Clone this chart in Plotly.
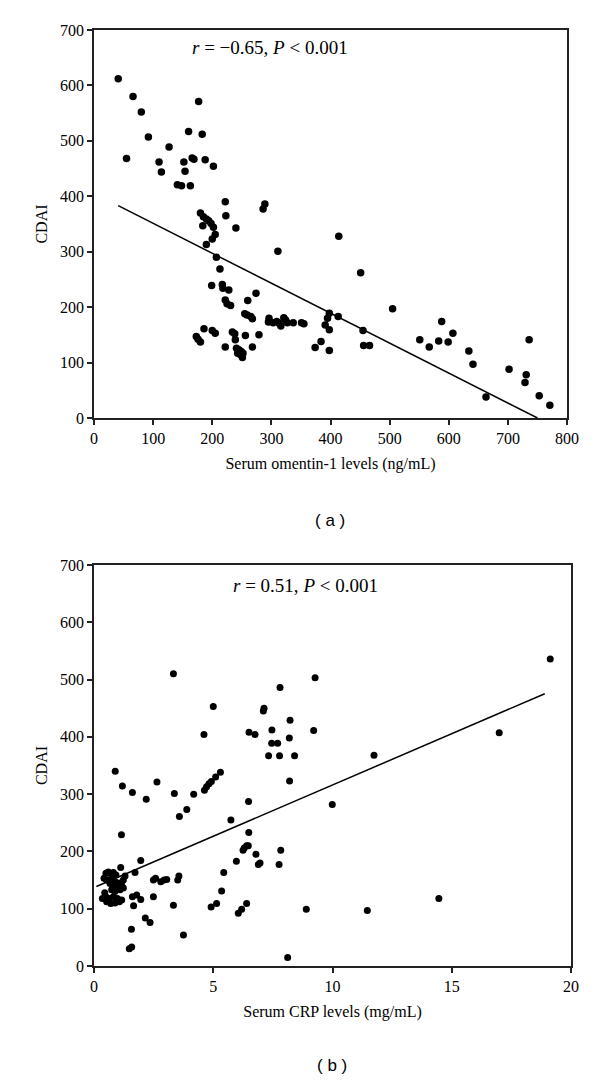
import plotly.graph_objects as go

# ---------------- Panel (a): omentin-1 vs CDAI ----------------
omentin_x = [41, 66, 80, 92, 55, 127, 110, 114, 141, 148, 163, 160, 183, 177, 152, 154,
             166, 169, 188, 202, 222, 223, 240, 180, 185, 190, 194, 198, 202, 184, 205, 200,
             190, 207, 289, 286, 414, 311, 213, 199, 217, 218, 228, 274, 260, 222, 225, 231,
             255, 259, 265, 268, 296, 295, 303, 309, 313, 316, 321, 324, 327, 337, 351, 355,
             398, 395, 391, 398, 413, 374, 384, 398, 186, 200, 205, 173, 176, 180, 234, 238,
             239, 256, 279, 222, 268, 241, 245, 249, 252, 243, 248, 251, 451, 505, 455, 456,
             466, 551, 567, 583, 588, 599, 607, 634, 641, 663, 702, 736, 731, 729, 753, 771]
omentin_cdai = [612, 580, 552, 507, 468, 489, 462, 444, 421, 419, 419, 517, 512, 571, 462, 445,
                469, 467, 466, 454, 390, 365, 343, 370, 363, 359, 356, 351, 344, 347, 331, 323,
                313, 290, 386, 377, 328, 301, 269, 239, 241, 234, 231, 225, 212, 213, 206, 203,
                188, 186, 183, 179, 180, 173, 172, 174, 171, 166, 181, 177, 172, 172, 172, 170,
                189, 180, 168, 159, 183, 127, 138, 122, 161, 158, 153, 147, 142, 137, 155, 152,
                141, 149, 150, 128, 128, 126, 123, 120, 117, 117, 114, 109, 262, 197, 158, 131,
                131, 141, 128, 139, 174, 137, 153, 121, 97, 38, 88, 141, 78, 64, 40, 23]
fit_a_x = [41, 750]
fit_a_intercept = 405.3
fit_a_slope = -0.5404

# ---------------- Panel (b): CRP vs CDAI ----------------
crp_x = [3.33, 9.27, 7.80, 5.00, 7.13, 7.10, 8.22, 4.61, 6.50, 6.75, 7.46, 9.21, 8.19, 7.45,
         7.70, 7.32, 7.78, 8.41, 8.20, 0.89, 1.19, 1.61, 2.19, 2.64, 3.37, 4.18, 4.63, 4.72,
         4.82, 4.92, 5.10, 5.30, 3.58, 3.89, 6.48, 9.99, 5.74, 19.13, 16.99, 11.74, 11.46, 14.46,
         1.15, 6.49, 1.96, 6.25, 6.30, 6.40, 6.47, 6.79, 5.97, 6.89, 6.96, 7.83, 7.76, 5.44,
         5.35, 4.91, 5.14, 6.05, 6.19, 6.40, 3.33, 3.75, 8.12, 8.90, 1.72, 2.49, 2.58, 2.80,
         2.94, 3.05, 3.51, 3.56, 2.49, 1.61, 1.79, 1.96, 1.66, 2.15, 2.35, 1.57, 1.48, 1.58,
         1.12, 0.50, 0.60, 0.70, 0.81, 0.92, 1.30, 0.42, 0.53, 0.74, 0.88, 1.02, 1.23, 1.16,
         0.95, 0.81, 0.67, 0.74, 0.88, 1.09, 1.23, 0.50, 0.64, 0.81, 0.98, 1.16, 0.53, 0.70,
         0.88, 1.06, 0.35, 0.45]
crp_cdai = [510, 503, 486, 453, 450, 445, 429, 404, 408, 404, 412, 411, 398, 389,
            389, 367, 367, 367, 323, 340, 314, 303, 291, 321, 301, 300, 307, 313,
            318, 322, 330, 338, 261, 273, 287, 282, 255, 536, 407, 368, 97, 118,
            229, 233, 184, 202, 206, 210, 210, 195, 183, 177, 180, 202, 177, 163,
            131, 103, 109, 92, 99, 109, 106, 54, 15, 99, 163, 150, 153, 147,
            150, 151, 150, 157, 121, 121, 124, 116, 105, 84, 76, 64, 30, 33,
            172, 162, 164, 161, 163, 159, 157, 153, 150, 153, 147, 145, 150, 141,
            138, 143, 144, 133, 130, 133, 136, 121, 118, 121, 118, 115, 112, 109,
            110, 112, 118, 128]
fit_b_x = [0.1, 18.9]
fit_b_intercept = 137.0
fit_b_slope = 17.9

y_ticks = [0, 100, 200, 300, 400, 500, 600, 700]
xa_ticks = [0, 100, 200, 300, 400, 500, 600, 700, 800]
xb_ticks = [0, 5, 10, 15, 20]

# page body has an 8px margin; size the figure to fill the rest of the window
OFF = 8
W, H = 600 - OFF, 1087 - OFF


def px(v):
    return (v - OFF) / W


def py(v):
    return 1 - (v - OFF) / H


SERIF = "Liberation Serif"
fig = go.Figure()
fig.add_trace(go.Scatter(x=omentin_x, y=omentin_cdai, mode="markers",
                         marker=dict(color="black", size=7.5),
                         xaxis="x", yaxis="y", showlegend=False))
fig.add_trace(go.Scatter(x=fit_a_x, y=[fit_a_intercept + fit_a_slope * v for v in fit_a_x],
                         mode="lines", line=dict(color="black", width=1.5),
                         xaxis="x", yaxis="y", showlegend=False))
fig.add_trace(go.Scatter(x=crp_x, y=crp_cdai, mode="markers", marker=dict(color="black", size=7),
                         xaxis="x2", yaxis="y2", showlegend=False))
fig.add_trace(go.Scatter(x=fit_b_x, y=[fit_b_intercept + fit_b_slope * v for v in fit_b_x],
                         mode="lines", line=dict(color="black", width=1.5),
                         xaxis="x2", yaxis="y2", showlegend=False))

axis_common = dict(showgrid=False, zeroline=False, showline=True, linecolor="#222",
                   linewidth=1.5, mirror=True, ticks="outside", ticklen=5, tickwidth=1.5,
                   tickcolor="#222", automargin=False,
                   tickfont=dict(family=SERIF, size=16, color="black"))
title_font = dict(family=SERIF, size=16, color="black")

fig.update_layout(
    width=W, height=H, margin=dict(l=0, r=0, t=0, b=0, autoexpand=False),
    paper_bgcolor="white", plot_bgcolor="white",
    xaxis=dict(axis_common, domain=[px(94), px(567)], range=[0, 800], tickvals=xa_ticks,
               anchor="y", title=dict(text="Serum omentin-1 levels (ng/mL)", standoff=12,
                                      font=title_font)),
    yaxis=dict(axis_common, domain=[py(418), py(30)], range=[0, 700], tickvals=y_ticks,
               anchor="x", title=dict(text="CDAI", standoff=8, font=title_font)),
    xaxis2=dict(axis_common, domain=[px(94), px(571)], range=[0, 20], tickvals=xb_ticks,
                anchor="y2", title=dict(text="Serum CRP levels (mg/mL)", standoff=12,
                                        font=title_font)),
    yaxis2=dict(axis_common, domain=[py(966), py(565)], range=[0, 700], tickvals=y_ticks,
                anchor="x2", title=dict(text="CDAI", standoff=8, font=title_font)),
    annotations=[
        dict(text="<i>r</i> = −0.65, <i>P</i> < 0.001", xref="paper", yref="paper",
             x=px(270), y=py(48), xanchor="center", yanchor="middle", showarrow=False,
             font=dict(family=SERIF, size=19, color="black")),
        dict(text="<i>r</i> = 0.51, <i>P</i> < 0.001", xref="paper", yref="paper",
             x=px(305), y=py(585), xanchor="center", yanchor="middle", showarrow=False,
             font=dict(family=SERIF, size=19, color="black")),
        dict(text="( a )", xref="paper", yref="paper", x=px(330), y=py(520),
             xanchor="center", yanchor="middle",
             showarrow=False, font=dict(family="Liberation Sans", size=17, color="black")),
        dict(text="( b )", xref="paper", yref="paper", x=px(332), y=py(1065),
             xanchor="center", yanchor="middle",
             showarrow=False, font=dict(family="Liberation Sans", size=17, color="black")),
    ],
)

fig.write_html("out.html")
